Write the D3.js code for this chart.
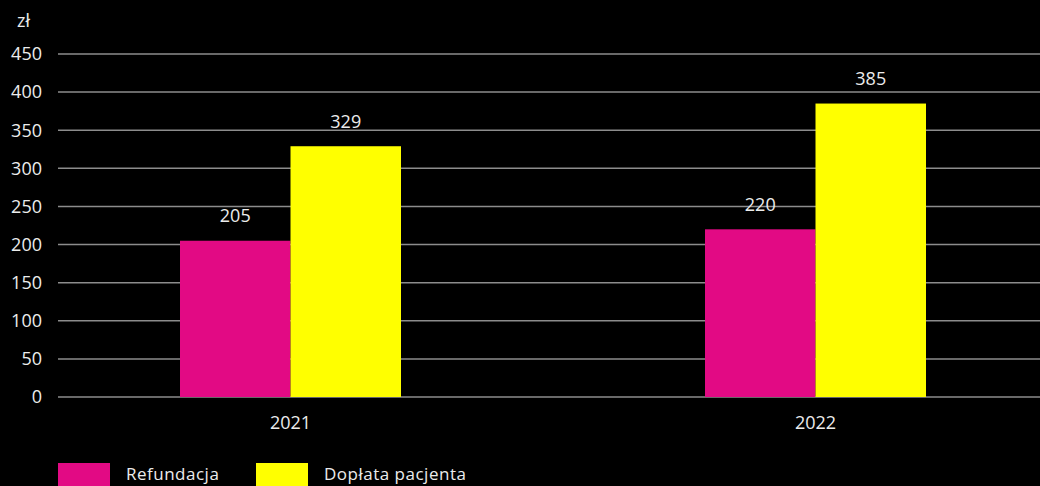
<!DOCTYPE html>
<html>
<head>
<meta charset="utf-8">
<script src="https://cdn.jsdelivr.net/npm/d3@7"></script>
<style>
  html, body { margin: 0; padding: 0; background: #000; }
  svg { display: block; }
  text { font-family: "Open Sans", "Noto Sans", sans-serif; fill: #ececec; }
</style>
</head>
<body>
<svg></svg>
<script>
const years = ['2021', '2022']
const seriesNames = ['Refundacja', 'Dopłata pacjenta']
const refundacja = [205, 220]
const doplata = [329, 385]
const yTicks = [0, 50, 100, 150, 200, 250, 300, 350, 400, 450]

const colors = ['#e20a84', '#ffff00']

const width = 1040, height = 486
const plotLeft = 58, plotTop = 54, plotBottom = 397

const svg = d3.select('svg')
    .attr('width', width)
    .attr('height', height)

const data = years.map((y, i) => ({ year: y, values: [refundacja[i], doplata[i]] }))

const x0 = d3.scaleBand()
    .domain(years)
    .range([28, 1078])

const groupW = 221
const x1 = d3.scaleBand()
    .domain(seriesNames)
    .range([(x0.bandwidth() - groupW) / 2, (x0.bandwidth() + groupW) / 2])

const y = d3.scaleLinear()
    .domain([0, 450])
    .range([plotBottom, plotTop])

// gridlines + y labels
const grid = svg.append('g')
grid.selectAll('line')
    .data(yTicks)
    .join('line')
        .attr('x1', plotLeft)
        .attr('x2', width)
        .attr('y1', d => y(d))
        .attr('y2', d => y(d))
        .attr('stroke', '#8c8c8c')
        .attr('stroke-width', 1.5)

grid.selectAll('text')
    .data(yTicks)
    .join('text')
        .attr('x', 42)
        .attr('y', d => y(d))
        .attr('dy', '0.35em')
        .attr('text-anchor', 'end')
        .style('font-size', '18px')
        .text(d => d)

svg.append('text')
    .attr('x', 17)
    .attr('y', 21)
    .attr('dy', '0.35em')
    .style('font-size', '18px')
    .text('zł')

// bars
const groups = svg.append('g')
    .selectAll('g')
    .data(data)
    .join('g')
        .attr('transform', d => `translate(${x0(d.year)},0)`)

groups.selectAll('rect')
    .data(d => d.values.map((v, i) => ({ key: seriesNames[i], value: v, i })))
    .join('rect')
        .attr('x', d => x1(d.key))
        .attr('y', d => y(d.value))
        .attr('width', x1.bandwidth())
        .attr('height', d => y(0) - y(d.value))
        .attr('fill', d => colors[d.i])

groups.selectAll('text')
    .data(d => d.values.map((v, i) => ({ key: seriesNames[i], value: v })))
    .join('text')
        .attr('x', d => x1(d.key) + x1.bandwidth() / 2)
        .attr('y', d => y(d.value) - 25)
        .attr('dy', '0.35em')
        .attr('text-anchor', 'middle')
        .style('font-size', '18px')
        .text(d => d.value)

// x labels
svg.append('g')
    .selectAll('text')
    .data(years)
    .join('text')
        .attr('x', d => x0(d) + x0.bandwidth() / 2)
        .attr('y', 423)
        .attr('dy', '0.35em')
        .attr('text-anchor', 'middle')
        .style('font-size', '18px')
        .text(d => d)

// legend
const legendX = [58, 256]
const legend = svg.append('g')
    .selectAll('g')
    .data(seriesNames)
    .join('g')
        .attr('transform', (d, i) => `translate(${legendX[i]}, 463)`)
legend.append('rect')
    .attr('width', 52)
    .attr('height', 30)
    .attr('fill', (d, i) => colors[i])
legend.append('text')
    .attr('x', 68)
    .attr('y', 11)
    .attr('dy', '0.35em')
    .style('font-size', '17px')
    .style('letter-spacing', '0.5px')
    .text(d => d)
</script>
</body>
</html>
